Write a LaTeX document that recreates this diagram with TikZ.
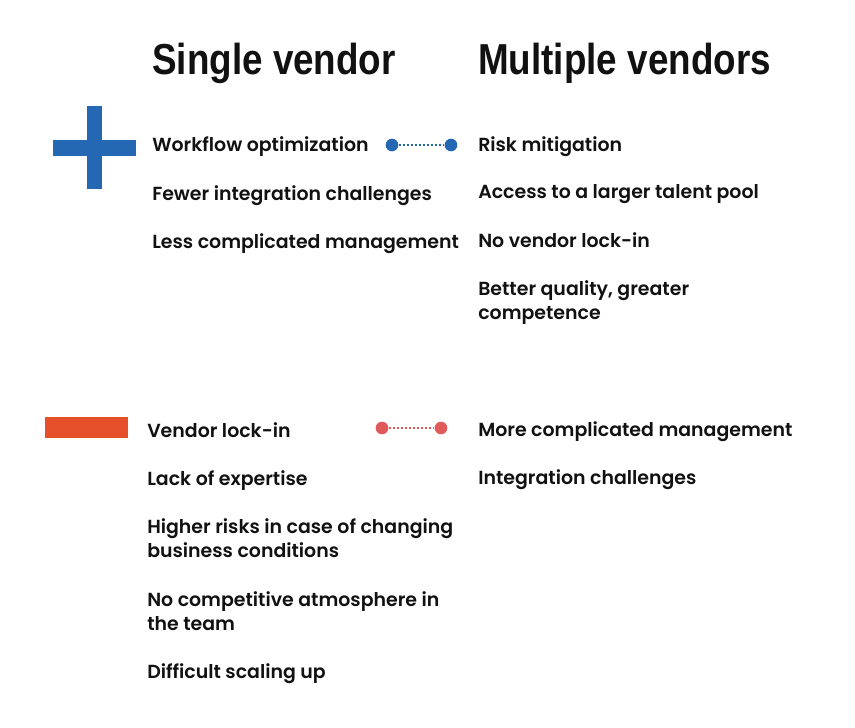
\documentclass[tikz,border=0pt]{standalone}
\usepackage{fontspec}
\setmainfont{Poppins}
\newfontfamily\headf{Liberation Sans}[FakeStretch=0.85]
\newfontfamily\bodyf{Poppins}[BoldFont={Poppins SemiBold}]
\definecolor{plusblue}{HTML}{2468B4}
\definecolor{minusorange}{HTML}{E5502A}
\definecolor{dotred}{HTML}{E05A5A}
\definecolor{txt}{HTML}{111111}
\begin{document}
\begin{tikzpicture}[x=0.75pt,y=-0.75pt,
  head/.style={anchor=base west,inner sep=0pt,font=\headf\bfseries\fontsize{32.5pt}{40pt}\selectfont,text=txt},
  item/.style={anchor=base west,inner sep=0pt,align=left,font=\bodyf\bfseries\fontsize{14.2pt}{18pt}\selectfont,text=txt},
  bdot/.style={circle,fill=plusblue,inner sep=0pt,minimum size=9.5pt},
  rdot/.style={circle,fill=dotred,inner sep=0pt,minimum size=9.5pt},
  bline/.style={plusblue,line width=1.6pt,dash pattern=on 1.6pt off 1.4pt},
  rline/.style={dotred,line width=1.6pt,dash pattern=on 1.6pt off 1.4pt}]
\useasboundingbox (0,0) rectangle (855,727);
\fill[white] (0,0) rectangle (855,727);
% headings
\node[head] (h1) at (152,75) {Single vendor};
\node[head] (h2) at (478,75) {Multiple vendors};
% plus
\fill[plusblue] (87,106) rectangle (102,189);
\fill[plusblue] (53,140) rectangle (136,156);
% minus
\fill[minusorange] (45,417) rectangle (128,438);
% single vendor pros
\node[item] (sp1) at (152,152) {Workflow optimization};
\node[item] (sp2) at (152,200) {Fewer integration challenges};
\node[item] (sp3) at (152,248) {Less complicated management};
% multiple vendor pros
\node[item] (mp1) at (478,152) {Risk mitigation};
\node[item] (mp2) at (478,199) {Access to a larger talent pool};
\node[item] (mp3) at (478,247) {No vendor lock-in};
\node[item] (mp4) at (478,319) {Better quality, greater\\competence};
% single vendor cons
\node[item] (sc1) at (147,437) {Vendor lock-in};
\node[item] (sc2) at (147,485) {Lack of expertise};
\node[item] (sc3) at (147,557) {Higher risks in case of changing\\business conditions};
\node[item] (sc4) at (147,630) {No competitive atmosphere in\\the team};
\node[item] (sc5) at (147,678) {Difficult scaling up};
% multiple vendor cons
\node[item] (mc1) at (478,436) {More complicated management};
\node[item] (mc2) at (478,484) {Integration challenges};
% connectors
\node[bdot] (b1) at (392,145) {};
\node[bdot] (b2) at (451,145) {};
\draw[bline] (b1) -- (b2);
\node[rdot] (r1) at (382,428) {};
\node[rdot] (r2) at (441,428) {};
\draw[rline] (r1) -- (r2);
\end{tikzpicture}
\end{document}
